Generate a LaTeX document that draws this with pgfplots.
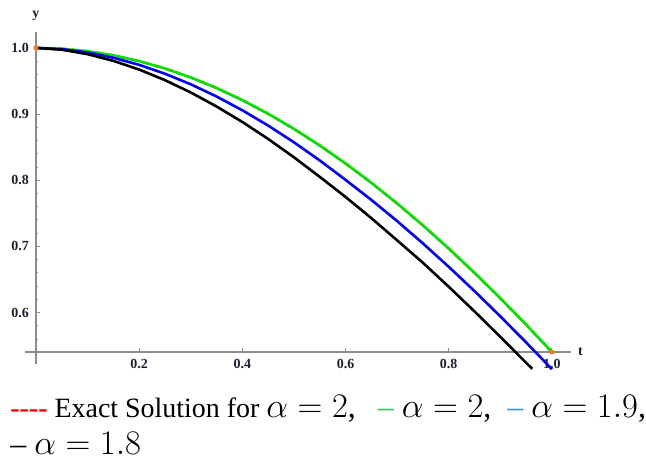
\documentclass[border=0pt]{standalone}
\usepackage{fontspec}
\setmainfont{Liberation Serif}
\usepackage{pgfplots}
\pgfplotsset{compat=1.18}
\definecolor{axgray}{RGB}{140,140,140}
\definecolor{labnavy}{RGB}{30,30,50}
\definecolor{cGreen}{RGB}{0,225,0}
\definecolor{cBlue}{RGB}{0,0,255}
\definecolor{cOrange}{RGB}{255,120,20}
\definecolor{capGreen}{RGB}{60,190,110}
\definecolor{capBlue}{RGB}{60,150,220}

\begin{document}
\begin{tikzpicture}
\begin{axis}[
  x=258.5pt, y=331.5pt,
  xmin=0, xmax=1.037, ymin=0.5403, ymax=1.024,
  axis lines=left, clip=false,
  axis line style={-, draw=axgray, line width=0.7pt},
  x axis line style={shorten <=-5.5pt},
  y axis line style={shorten <=-6pt},
  xtick={0.2,0.4,0.6,0.8,1.0}, xticklabels={0.2,0.4,0.6,0.8,1.0},
  ytick={0.6,0.7,0.8,0.9,1.0}, yticklabels={0.6,0.7,0.8,0.9,1.0},
  minor ytick={0.56,0.58,0.62,0.64,0.66,0.68,0.72,0.74,0.76,0.78,0.82,0.84,0.86,0.88,0.92,0.94,0.96,0.98},
  tick align=inside, major tick length=2pt, minor tick length=1.2pt,
  tick style={draw=axgray, line width=0.5pt},
  tick label style={font=\bfseries\fontsize{7}{8}\selectfont, text=labnavy},
]
% exact solution (alpha = 2), hidden under the green curve
\addplot[cOrange, dashed, line width=1.3pt] coordinates {
  (0,1) (0.05,0.99875) (0.1,0.99500) (0.15,0.98877) (0.2,0.98007) (0.25,0.96891)
  (0.3,0.95534) (0.35,0.93937) (0.4,0.92106) (0.45,0.90045) (0.5,0.87758)
  (0.55,0.85252) (0.6,0.82534) (0.65,0.79608) (0.7,0.76484) (0.75,0.73169)
  (0.8,0.69671) (0.85,0.65998) (0.9,0.62161) (0.95,0.58168) (1.0,0.54030)
};
% alpha = 2
\addplot[cGreen, line width=1.3pt] coordinates {
  (0,1) (0.05,0.99875) (0.1,0.99500) (0.15,0.98877) (0.2,0.98007) (0.25,0.96891)
  (0.3,0.95534) (0.35,0.93937) (0.4,0.92106) (0.45,0.90045) (0.5,0.87758)
  (0.55,0.85252) (0.6,0.82534) (0.65,0.79608) (0.7,0.76484) (0.75,0.73169)
  (0.8,0.69671) (0.85,0.65998) (0.9,0.62161) (0.95,0.58168) (1.0,0.54030)
};
% alpha = 1.9
\addplot[cBlue, line width=1.3pt] coordinates {
  (0,1) (0.05,0.99815) (0.1,0.99312) (0.15,0.98516) (0.2,0.97441) (0.25,0.96100)
  (0.3,0.94502) (0.35,0.92657) (0.4,0.90575) (0.45,0.88264) (0.5,0.85735)
  (0.55,0.82996) (0.6,0.80059) (0.65,0.7703) (0.7,0.7383) (0.75,0.7045)
  (0.8,0.6692) (0.85,0.6324) (0.9,0.5943) (0.95,0.5549) (1.0,0.5145)
};
% alpha = 1.8
\addplot[black, line width=1.3pt] coordinates {
  (0,1) (0.05,0.99729) (0.1,0.99056) (0.15,0.98047) (0.2,0.96731) (0.25,0.95131)
  (0.3,0.93267) (0.35,0.91155) (0.4,0.88810) (0.45,0.86246) (0.5,0.83477)
  (0.55,0.80517) (0.6,0.7748) (0.65,0.7428) (0.7,0.7092) (0.75,0.6753)
  (0.8,0.6391) (0.85,0.6018) (0.9,0.5634) (0.95,0.5242) (0.962,0.5150)
};
\addplot[only marks, mark=*, mark size=1pt, cOrange] coordinates {(0,1) (1,0.5403)};

\node[anchor=south, font=\bfseries\fontsize{7}{8}\selectfont, text=labnavy, yshift=2pt]
  at (axis description cs:0,1) {y};
\node[anchor=west, font=\bfseries\fontsize{7}{8}\selectfont, text=labnavy]
  at (axis description cs:1,0) {t};

\node[anchor=base west, inner sep=0pt] at (axis cs:-0.0503,0.4419)
  {{\fontsize{14}{16}\selectfont\textcolor{red}{\bfseries -{}-{}-{}-}\ Exact Solution for }%
   {\fontsize{16}{18}\selectfont $\alpha = 2$,\hspace{11pt}\textcolor{capGreen}{–}\hspace{4pt}$\alpha = 2$,\hspace{8pt}\textcolor{capBlue}{–}\hspace{4pt}$\alpha = 1.9$,}};
\node[anchor=base west, inner sep=0pt] at (axis cs:-0.0503,0.3861)
  {\fontsize{16}{18}\selectfont –\hspace{4pt}$\alpha = 1.8$};

\path (axis cs:-0.0696,0.3725) rectangle (axis cs:1.1799,1.0724);
\end{axis}
\end{tikzpicture}
\end{document}
